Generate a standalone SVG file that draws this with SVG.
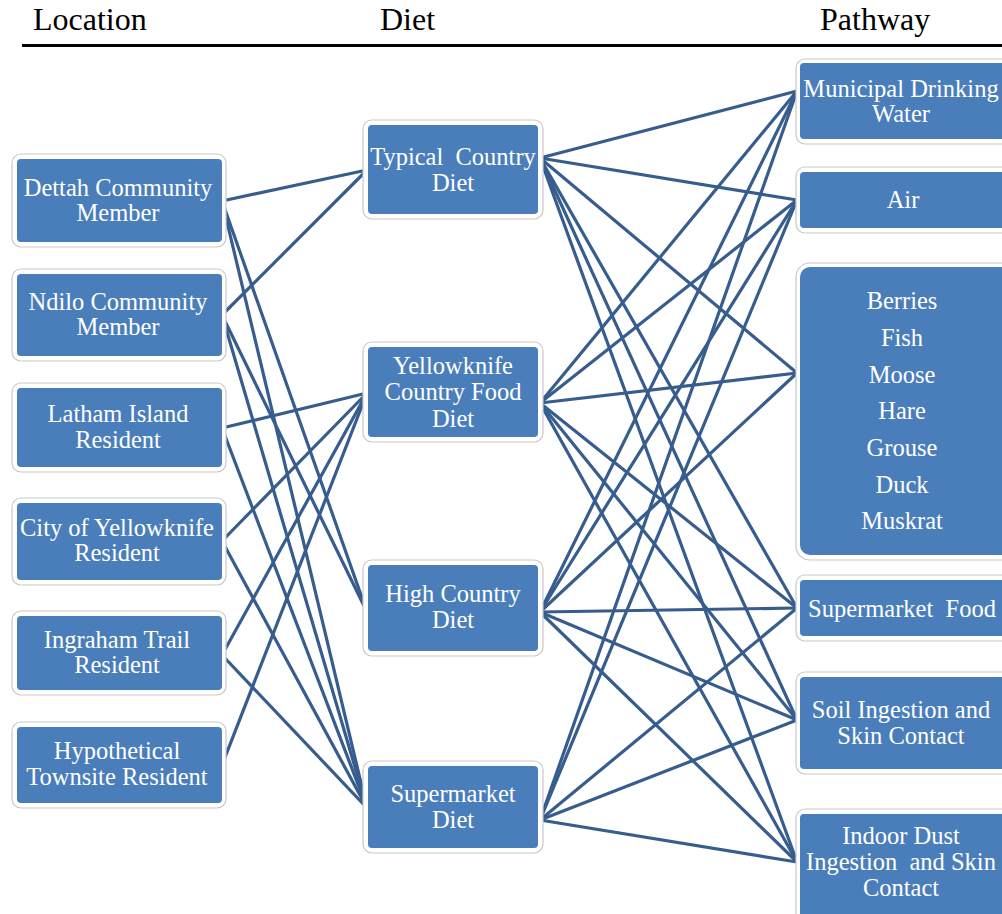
<svg xmlns="http://www.w3.org/2000/svg" width="1002" height="914" viewBox="0 0 1002 914">
  <style>
    .hdr { font-family: "Liberation Serif", "Times New Roman", serif; font-size: 32px; fill: #000; }
    .frame { fill: #fff; stroke: #c9c9c9; stroke-width: 1.2; }
    .box { fill: #4a7ebb; }
    .lbl { font-family: "Liberation Serif", "Times New Roman", serif; font-size: 24.5px; fill: #fff; text-anchor: middle; }
    .edge { stroke: #375d8e; stroke-width: 3.2; fill: none; stroke-linecap: round; }
  </style>

  <!-- column headings -->
  <g id="headings">
    <text class="hdr" x="33" y="30">Location</text>
    <text class="hdr" x="380" y="30">Diet</text>
    <text class="hdr" x="820" y="30">Pathway</text>
    <line x1="22" y1="45.5" x2="1002" y2="45.5" stroke="#000" stroke-width="3"/>
  </g>

  <!-- connectors -->
  <g id="connectors">
    <!-- location to diet -->
    <line class="edge" x1="222" y1="201" x2="367" y2="170"/>
    <line class="edge" x1="222" y1="201" x2="367" y2="612"/>
    <line class="edge" x1="222" y1="201" x2="367" y2="808"/>
    <line class="edge" x1="222" y1="315" x2="367" y2="170"/>
    <line class="edge" x1="222" y1="315" x2="367" y2="612"/>
    <line class="edge" x1="222" y1="315" x2="367" y2="808"/>
    <line class="edge" x1="222" y1="428" x2="367" y2="393"/>
    <line class="edge" x1="222" y1="428" x2="367" y2="808"/>
    <line class="edge" x1="222" y1="541" x2="367" y2="393"/>
    <line class="edge" x1="222" y1="541" x2="367" y2="808"/>
    <line class="edge" x1="222" y1="655" x2="367" y2="393"/>
    <line class="edge" x1="222" y1="655" x2="367" y2="808"/>
    <line class="edge" x1="222" y1="765" x2="367" y2="393"/>
    <!-- diet to pathway -->
    <line class="edge" x1="540" y1="158" x2="797" y2="91"/>
    <line class="edge" x1="540" y1="158" x2="797" y2="200"/>
    <line class="edge" x1="540" y1="158" x2="797" y2="373"/>
    <line class="edge" x1="540" y1="158" x2="797" y2="608"/>
    <line class="edge" x1="540" y1="158" x2="797" y2="720"/>
    <line class="edge" x1="540" y1="158" x2="797" y2="862"/>
    <line class="edge" x1="540" y1="403" x2="797" y2="91"/>
    <line class="edge" x1="540" y1="403" x2="797" y2="200"/>
    <line class="edge" x1="540" y1="403" x2="797" y2="373"/>
    <line class="edge" x1="540" y1="403" x2="797" y2="608"/>
    <line class="edge" x1="540" y1="403" x2="797" y2="720"/>
    <line class="edge" x1="540" y1="403" x2="797" y2="862"/>
    <line class="edge" x1="540" y1="612" x2="797" y2="91"/>
    <line class="edge" x1="540" y1="612" x2="797" y2="200"/>
    <line class="edge" x1="540" y1="612" x2="797" y2="373"/>
    <line class="edge" x1="540" y1="612" x2="797" y2="608"/>
    <line class="edge" x1="540" y1="612" x2="797" y2="720"/>
    <line class="edge" x1="540" y1="612" x2="797" y2="862"/>
    <line class="edge" x1="540" y1="820" x2="797" y2="91"/>
    <line class="edge" x1="540" y1="820" x2="797" y2="200"/>
    <line class="edge" x1="540" y1="820" x2="797" y2="608"/>
    <line class="edge" x1="540" y1="820" x2="797" y2="720"/>
    <line class="edge" x1="540" y1="820" x2="797" y2="862"/>
  </g>

  <!-- location nodes -->
  <g id="loc-dettah">
    <rect class="frame" x="12" y="154" width="214" height="93" rx="9"/>
    <rect class="box" x="17" y="159" width="205" height="83" rx="4"/>
    <text class="lbl" x="118" y="196">Dettah Community</text>
    <text class="lbl" x="118" y="221">Member</text>
  </g>
  <g id="loc-ndilo">
    <rect class="frame" x="12" y="269" width="214" height="92" rx="9"/>
    <rect class="box" x="17" y="274" width="205" height="82" rx="4"/>
    <text class="lbl" x="118" y="310">Ndilo Community</text>
    <text class="lbl" x="118" y="335">Member</text>
  </g>
  <g id="loc-latham">
    <rect class="frame" x="12" y="383" width="214" height="89" rx="9"/>
    <rect class="box" x="17" y="388" width="205" height="79" rx="4"/>
    <text class="lbl" x="118" y="422">Latham Island</text>
    <text class="lbl" x="118" y="448">Resident</text>
  </g>
  <g id="loc-city">
    <rect class="frame" x="12" y="498" width="214" height="87" rx="9"/>
    <rect class="box" x="17" y="503" width="205" height="77" rx="4"/>
    <text class="lbl" x="117" y="536">City of Yellowknife</text>
    <text class="lbl" x="117" y="561">Resident</text>
  </g>
  <g id="loc-ingraham">
    <rect class="frame" x="12" y="611" width="214" height="84" rx="9"/>
    <rect class="box" x="17" y="616" width="205" height="74" rx="4"/>
    <text class="lbl" x="117" y="648">Ingraham Trail</text>
    <text class="lbl" x="117" y="673">Resident</text>
  </g>
  <g id="loc-townsite">
    <rect class="frame" x="12" y="722" width="214" height="86" rx="9"/>
    <rect class="box" x="17" y="727" width="205" height="76" rx="4"/>
    <text class="lbl" x="117" y="759">Hypothetical</text>
    <text class="lbl" x="117" y="785">Townsite Resident</text>
  </g>

  <!-- diet nodes -->
  <g id="diet-typical">
    <rect class="frame" x="363" y="120" width="180" height="99" rx="9"/>
    <rect class="box" x="368" y="125" width="170" height="89" rx="4"/>
    <text class="lbl" x="453" y="165" xml:space="preserve">Typical  Country</text>
    <text class="lbl" x="453" y="191">Diet</text>
  </g>
  <g id="diet-yellowknife">
    <rect class="frame" x="363" y="342" width="180" height="100" rx="9"/>
    <rect class="box" x="368" y="347" width="170" height="90" rx="4"/>
    <text class="lbl" x="453" y="374">Yellowknife</text>
    <text class="lbl" x="453" y="400">Country Food</text>
    <text class="lbl" x="453" y="427">Diet</text>
  </g>
  <g id="diet-high">
    <rect class="frame" x="363" y="560" width="180" height="96" rx="9"/>
    <rect class="box" x="368" y="565" width="170" height="86" rx="4"/>
    <text class="lbl" x="453" y="602">High Country</text>
    <text class="lbl" x="453" y="628">Diet</text>
  </g>
  <g id="diet-supermarket">
    <rect class="frame" x="363" y="761" width="180" height="92" rx="9"/>
    <rect class="box" x="368" y="766" width="170" height="82" rx="4"/>
    <text class="lbl" x="453" y="802">Supermarket</text>
    <text class="lbl" x="453" y="828">Diet</text>
  </g>

  <!-- pathway nodes -->
  <g id="path-water">
    <rect class="frame" x="796" y="59" width="220" height="85" rx="9"/>
    <rect class="box" x="800" y="63" width="212" height="76" rx="4"/>
    <text class="lbl" x="901" y="97">Municipal Drinking</text>
    <text class="lbl" x="901" y="122">Water</text>
  </g>
  <g id="path-air">
    <rect class="frame" x="796" y="167" width="220" height="66" rx="9"/>
    <rect class="box" x="800" y="172" width="212" height="56" rx="4"/>
    <text class="lbl" x="903" y="208">Air</text>
  </g>
  <g id="path-country-food">
    <rect class="frame" x="796" y="263" width="220" height="297" rx="14"/>
    <rect class="box" x="800" y="267" width="212" height="288" rx="10"/>
    <text class="lbl" x="902" y="309">Berries</text>
    <text class="lbl" x="902" y="346">Fish</text>
    <text class="lbl" x="902" y="383">Moose</text>
    <text class="lbl" x="902" y="419">Hare</text>
    <text class="lbl" x="902" y="456">Grouse</text>
    <text class="lbl" x="902" y="493">Duck</text>
    <text class="lbl" x="902" y="529">Muskrat</text>
  </g>
  <g id="path-supermarket-food">
    <rect class="frame" x="796" y="575" width="220" height="66" rx="9"/>
    <rect class="box" x="800" y="580" width="212" height="56" rx="4"/>
    <text class="lbl" x="902" y="617" xml:space="preserve">Supermarket  Food</text>
  </g>
  <g id="path-soil">
    <rect class="frame" x="796" y="672" width="220" height="102" rx="9"/>
    <rect class="box" x="800" y="677" width="212" height="92" rx="4"/>
    <text class="lbl" x="901" y="718">Soil Ingestion and</text>
    <text class="lbl" x="901" y="744">Skin Contact</text>
  </g>
  <g id="path-dust">
    <rect class="frame" x="796" y="809" width="220" height="115" rx="9"/>
    <rect class="box" x="800" y="814" width="212" height="105" rx="4"/>
    <text class="lbl" x="901" y="844">Indoor Dust</text>
    <text class="lbl" x="901" y="870" xml:space="preserve">Ingestion  and Skin</text>
    <text class="lbl" x="901" y="896">Contact</text>
  </g>
</svg>
